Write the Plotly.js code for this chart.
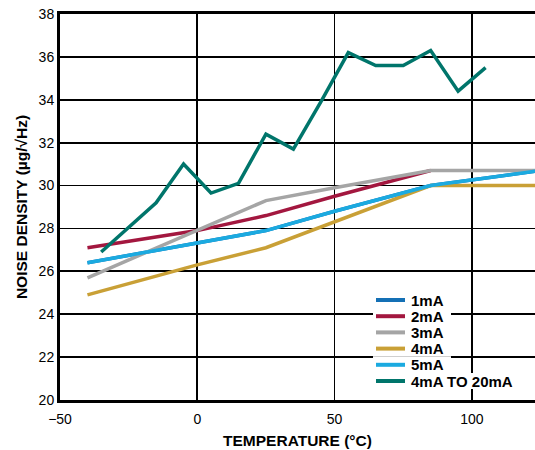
<!DOCTYPE html>
<html>
<head>
<meta charset="utf-8">
<script src="https://cdn.plot.ly/plotly-3.0.1.min.js"></script>
<style>html,body{margin:0;padding:0;background:#fff;}#chart{width:535px;height:450px;}</style>
</head>
<body>
<div id="chart"></div>
<script>
// Data
var tempA = [-40, -20, 0, 25, 50, 85, 125];
var ma1 = [26.4, 26.85, 27.3, 27.9, 28.8, 30.0, 30.7];
var ma2 = [27.1, 27.5, 27.9, 28.6, 29.5, 30.7, null];
var ma3 = [25.7, 26.8, 27.9, 29.3, 29.9, 30.7, 30.7];
var ma4 = [24.9, 25.6, 26.3, 27.1, 28.3, 30.0, 30.0];
var ma5 = [26.4, 26.85, 27.3, 27.9, 28.8, 30.0, 30.7];
var tempB = [-35, -15, -5, 5, 15, 25, 35, 45, 55, 65, 75, 85, 95, 105];
var ma4to20 = [26.9, 29.2, 31.0, 29.65, 30.1, 32.4, 31.7, 33.9, 36.2, 35.6, 35.6, 36.3, 34.4, 35.5];
var seriesNames = ['1mA', '2mA', '3mA', '4mA', '5mA', '4mA TO 20mA'];
var xTicks = [-50, 0, 50, 100];
var yTicks = [20, 22, 24, 26, 28, 30, 32, 34, 36, 38];

var colors = ['#1470B5', '#A3173F', '#A5A5A5', '#C9A036', '#1BAAE0', '#00756B'];
var ys = [ma1, ma2, ma3, ma4, ma5];
var traces = [];
for (var i = 0; i < 5; i++) {
  traces.push({x: tempA, y: ys[i], mode: 'lines', name: seriesNames[i],
    line: {color: colors[i], width: 3.5}, connectgaps: false});
}
traces.push({x: tempB, y: ma4to20, mode: 'lines', name: seriesNames[5],
  line: {color: colors[5], width: 3.5}});

var FF = 'Liberation Sans, Arial, sans-serif';
var M = {l: 60, r: 0, t: 14, b: 50};
var W = 535, H = 450;
var pw = W - M.l - M.r, ph = H - M.t - M.b;
function px(x) { return (x - M.l) / pw; }
function py(y) { return (H - M.b - y) / ph; }

// Legend drawn as key entries (line sample + label) with white knockout
var shapes = [], annotations = [];
var textW = [33, 33, 33, 33, 33, 104];
for (var k = 0; k < seriesNames.length; k++) {
  var cy = 300 + k * 16.2;
  shapes.push({type: 'rect', xref: 'paper', yref: 'paper', layer: 'above',
    x0: px(373), x1: px(410 + textW[k] + 8), y0: py(cy + 8.1), y1: py(cy - 8.1),
    fillcolor: '#fff', line: {width: 0}});
  shapes.push({type: 'line', xref: 'paper', yref: 'paper', layer: 'above',
    x0: px(376), x1: px(405), y0: py(cy), y1: py(cy),
    line: {color: colors[k], width: 4}});
  annotations.push({xref: 'paper', yref: 'paper', x: px(409), y: py(cy),
    xanchor: 'left', yanchor: 'middle', showarrow: false, text: seriesNames[k],
    font: {family: FF, size: 15, color: '#000', weight: 'bold'}});
}

var layout = {
  width: W, height: H,
  margin: M,
  paper_bgcolor: '#fff', plot_bgcolor: '#fff',
  showlegend: false,
  shapes: shapes, annotations: annotations,
  xaxis: {range: [-50, 123], tickvals: xTicks, showgrid: true, gridcolor: '#000', gridwidth: 1.8,
    zeroline: false, showline: true, linecolor: '#000', linewidth: 3, mirror: true,
    ticks: '', ticklabelstandoff: 4, tickfont: {family: FF, size: 14, color: '#000'},
    title: {text: 'TEMPERATURE (°C)', font: {family: FF, size: 15.5, color: '#000', weight: 'bold'}, standoff: 10}},
  yaxis: {range: [20, 38], tickvals: yTicks, showgrid: true, gridcolor: '#000', gridwidth: 1.8,
    zeroline: false, showline: true, linecolor: '#000', linewidth: 3, mirror: false,
    ticks: '', tickfont: {family: FF, size: 14, color: '#000'},
    title: {text: 'NOISE DENSITY (µg/√Hz)', font: {family: FF, size: 15.5, color: '#000', weight: 'bold'}, standoff: 8}}
};
Plotly.newPlot('chart', traces, layout, {displayModeBar: false, staticPlot: true});
</script>
</body>
</html>
